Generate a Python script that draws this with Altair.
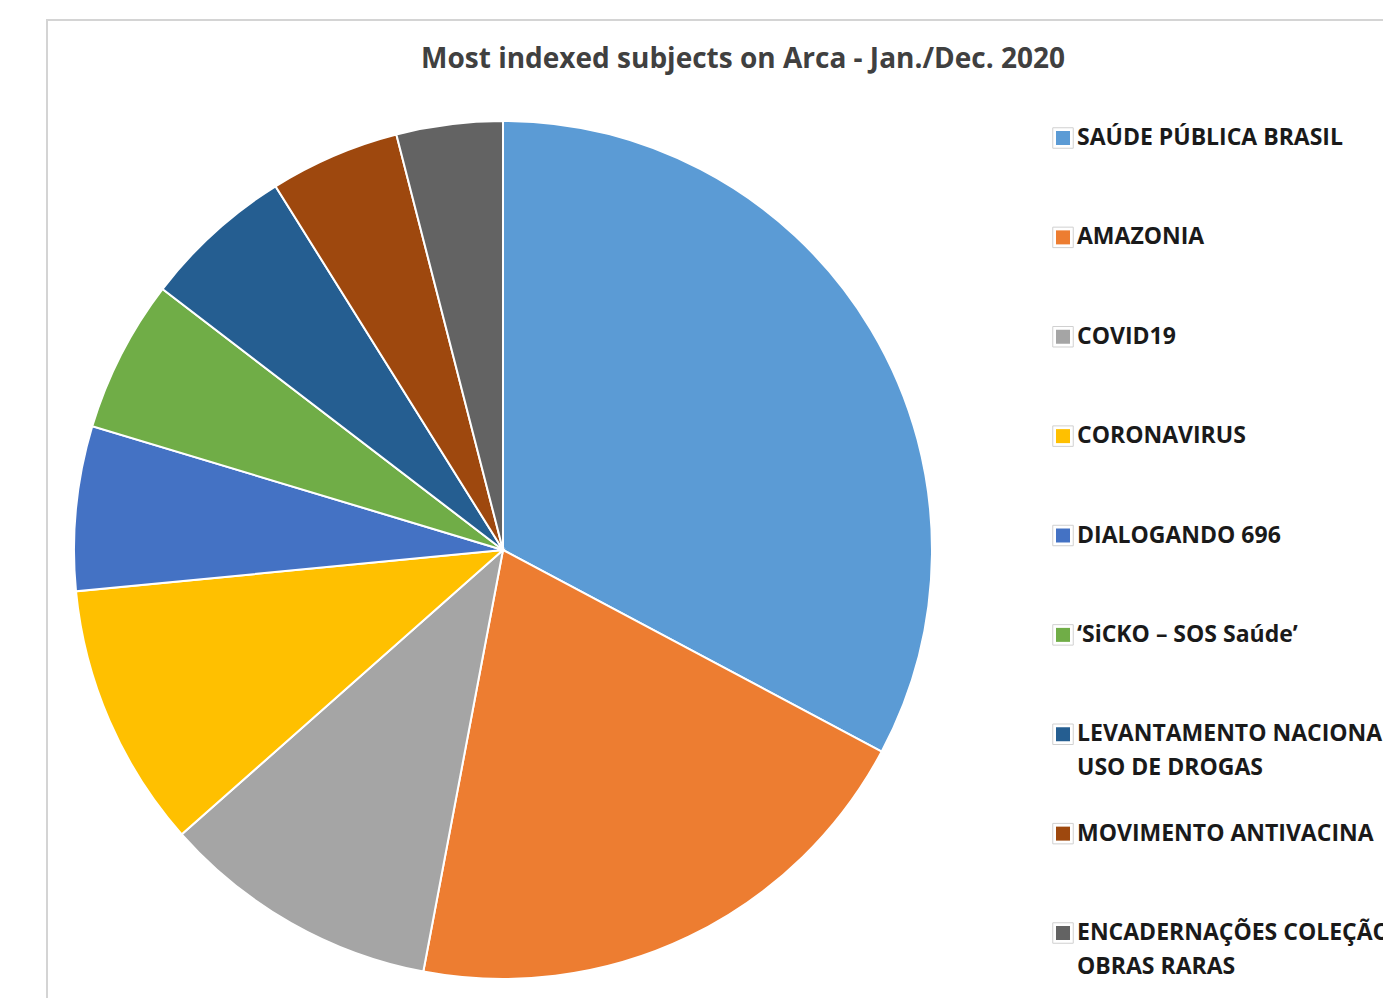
import altair as alt
import pandas as pd

# ---- data ----
subjects = [
    "SAÚDE PÚBLICA BRASIL",
    "AMAZONIA",
    "COVID19",
    "CORONAVIRUS",
    "DIALOGANDO 696",
    "‘SiCKO – SOS Saúde’",
    "LEVANTAMENTO NACIONAL SOBRE O USO DE DROGAS",
    "MOVIMENTO ANTIVACINA",
    "ENCADERNAÇÕES COLEÇÃO OBRAS RARAS",
]
shares = [32.8, 20.2, 10.5, 10.0, 6.2, 5.75, 5.7, 4.9, 4.0]
label_line1 = [
    "SAÚDE PÚBLICA BRASIL",
    "AMAZONIA",
    "COVID19",
    "CORONAVIRUS",
    "DIALOGANDO 696",
    "‘SiCKO – SOS Saúde’",
    "LEVANTAMENTO NACIONAL SOBRE O",
    "MOVIMENTO ANTIVACINA",
    "ENCADERNAÇÕES COLEÇÃO",
]
label_line2 = ["", "", "", "", "", "", "USO DE DROGAS", "", "OBRAS RARAS"]
palette = ["#5B9BD5", "#ED7D31", "#A5A5A5", "#FFC000", "#4472C4",
           "#70AD47", "#255E91", "#9E480E", "#636363"]
title_text = "Most indexed subjects on Arca - Jan./Dec. 2020"

df = pd.DataFrame({
    "subject": subjects,
    "share": shares,
    "rank": list(range(len(subjects))),
    "line1": label_line1,
    "line2": label_line2,
})

color_scale = alt.Scale(domain=subjects, range=palette)
FONT = "Open Sans"

base = alt.Chart(df)

frame = alt.Chart(pd.DataFrame({"f": [0]})).mark_rect(
    fill="white", fillOpacity=0, stroke="#D4D4D4", strokeWidth=2
).encode(x=alt.value(0), y=alt.value(0), x2=alt.value(4000), y2=alt.value(4000))

pie = base.mark_arc(radius=429, stroke="white", strokeWidth=2).encode(
    theta=alt.Theta("share:Q", stack=True),
    order=alt.Order("rank:Q"),
    color=alt.Color("subject:N", scale=color_scale, legend=None),
    x=alt.value(456),
    y=alt.value(530),
)

leg_y = alt.Y("subject:N", scale=alt.Scale(domain=subjects, range=[118, 913], padding=0), axis=None)

sym_outer = base.mark_square(size=420, fill="white", stroke="#D0D0D0", strokeWidth=1, opacity=1).encode(
    x=alt.value(1016), y=leg_y
)
sym_inner = base.mark_square(size=196, opacity=1, strokeWidth=0).encode(
    x=alt.value(1016), y=leg_y,
    color=alt.Color("subject:N", scale=color_scale, legend=None),
)
txt1 = base.mark_text(align="left", baseline="middle", font=FONT, fontWeight="bold",
                      fontSize=23, color="#1A1A1A").encode(
    x=alt.value(1030), y=leg_y, text="line1:N"
)
txt2 = base.transform_filter("datum.line2 != ''").mark_text(
    align="left", baseline="middle", font=FONT, fontWeight="bold",
    fontSize=23, color="#1A1A1A", dy=34).encode(
    x=alt.value(1030), y=leg_y, text="line2:N"
)

chart = alt.layer(frame, pie, sym_outer, sym_inner, txt1, txt2).properties(
    width=1336,
    height=978,
    autosize=alt.AutoSizeParams(type="none"),
    padding={"left": 39, "top": 12, "right": 0, "bottom": 0},
    background="white",
    title=alt.TitleParams(
        text=title_text, font=FONT, fontSize=28, fontWeight="bold", color="#404040",
        anchor="middle", frame="group", offset=0, dx=28, dy=55,
    ),
).configure_view(stroke=None)

chart.save("out.html", embed_options={"renderer": "svg", "actions": False})
